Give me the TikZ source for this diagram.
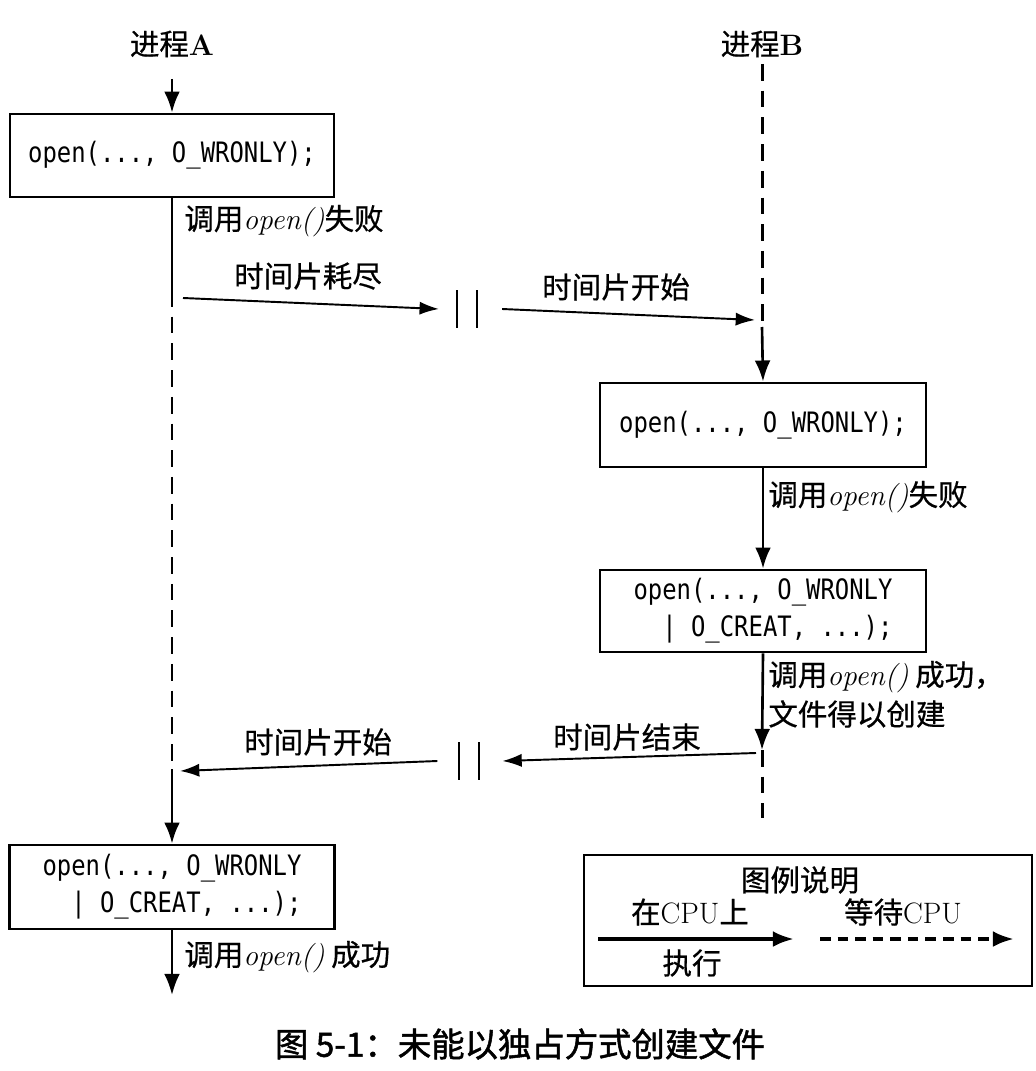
\documentclass[tikz,border=0pt]{standalone}
\usepackage{fontspec}
\usetikzlibrary{arrows.meta}
\newfontfamily\cjk[FakeBold=0.6]{Noto Sans CJK SC}
\newfontfamily\cjkbold[FakeBold=1.5]{Noto Sans CJK SC}
\newfontfamily\codefont[FakeStretch=0.85]{DejaVu Sans Mono}
\newcommand{\fn}[1]{{\normalfont\itshape #1}}

\tikzset{
  codebox/.style={draw, line width=1.6pt, inner sep=0pt, font=\codefont\fontsize{16}{21}\selectfont, align=left},
  lbl/.style={font=\cjk\fontsize{16.8}{22}\selectfont, inner sep=0pt},
  runline/.style={line width=1.5pt},
  waitline/.style={line width=1.7pt, dash pattern=on 9.5pt off 5.7pt},
  vtip/.style={-{Latex[length=12pt,width=9pt]}},
  htip/.style={line width=1.1pt, -{Latex[length=11pt,width=7.5pt]}},
  bar/.style={line width=1.1pt}
}

\begin{document}
\begin{tikzpicture}[x=0.02cm, y=-0.02cm]
\useasboundingbox (0,0) rectangle (1035,1071);

% process titles
\node[lbl] (procA) at (172,44) {进程\textbf{\rmfamily A}};
\node[lbl] (procB) at (762,44) {进程\textbf{\rmfamily B}};

% code boxes
\node[codebox, minimum width=6.48cm, minimum height=1.66cm] (boxA1) at (172,155.5) {open(..., O\_WRONLY);};
\node[codebox, minimum width=6.52cm, minimum height=1.68cm] (boxB1) at (763,425) {open(..., O\_WRONLY);};
\node[codebox, minimum width=6.52cm, minimum height=1.64cm] (boxB2) at (763,611) {open(..., O\_WRONLY\\\ \ | O\_CREAT, ...);};
\node[codebox, minimum width=6.5cm, minimum height=1.68cm] (boxA2) at (172,887) {open(..., O\_WRONLY\\\ \ | O\_CREAT, ...);};

% switch points
\coordinate (a1) at (172,290);
\coordinate (a2) at (172,769);
\coordinate (aend) at (172,995);
\coordinate (b1) at (762,64);
\coordinate (b2) at (762,327);
\coordinate (b3) at (762,750);
\coordinate (b4) at (762,818);
\coordinate (gapU) at (467,309);
\coordinate (gapL) at (469,761);

% process A
\draw[runline, vtip] ([yshift=-12pt]procA.south) -- (boxA1.north);
\draw[runline] (boxA1.south) -- (a1);
\draw[waitline] (a1) -- (a2);
\draw[runline, vtip] (a2) -- (boxA2.north);
\draw[runline, vtip] (boxA2.south) -- (aend);

% process B
\draw[waitline] (b1) -- (b2);
\draw[runline, vtip] (b2) -- (boxB1.north);
\draw[runline, vtip] (boxB1.south) -- (boxB2.north);
\draw[runline, vtip] (boxB2.south) -- (b3);
\draw[waitline] (b3) -- (b4);

% the two bars
\draw[bar] ([shift={(-10,-19)}]gapU) -- ([shift={(-10,19)}]gapU)
           ([shift={(10,-19)}]gapU) -- ([shift={(10,19)}]gapU);
\draw[bar] ([shift={(-10,-19)}]gapL) -- ([shift={(-10,19)}]gapL)
           ([shift={(10,-19)}]gapL) -- ([shift={(10,19)}]gapL);

% time slice arrows
\draw[htip] (183,298) -- ([xshift=-16]gapU);
\draw[htip] ([xshift=20]gapU) -- (755,320);
\draw[htip] (756,753) -- ([xshift=19]gapL);
\draw[htip] ([xshift=-18]gapL) -- (180,771);

% labels
\node[lbl, anchor=west] (failA) at (184,221) {调用\fn{open()}失败};
\node[lbl] (outA) at (308,276) {时间片耗尽};
\node[lbl] (inB) at (616,287) {时间片开始};
\node[lbl, anchor=west] (failB) at (768,497) {调用\fn{open()}失败};
\node[lbl, anchor=west] (okB) at (768,677) {调用\fn{open()} 成功，};
\node[lbl, anchor=west] (mkB) at (768,714) {文件得以创建};
\node[lbl] (outB) at (627,737) {时间片结束};
\node[lbl] (inA) at (318,742) {时间片开始};
\node[lbl, anchor=west] (okA) at (184,957) {调用\fn{open()} 成功};

% legend
\node[draw, line width=1.1pt, minimum width=8.96cm, minimum height=2.62cm] (legend) at (808,920.5) {};
\node[lbl] (legtitle) at (800,880) {图例说明};
\node[lbl] (legrun) at (690,912) {在{\rmfamily CPU}上};
\node[lbl] (legexec) at (692,963) {执行};
\node[lbl] (legwait) at (903,912) {等待{\rmfamily CPU}};
\coordinate (r1) at (598,939);
\coordinate (r2) at (794,939);
\coordinate (w1) at (820,939);
\coordinate (w2) at (1014,939);
\draw[line width=2.2pt, -{Latex[length=12pt,width=9pt]}] (r1) -- (r2);
\draw[line width=2.2pt, dash pattern=on 6pt off 4pt, -{Latex[length=12pt,width=9pt]}] (w1) -- (w2);

% caption
\node[font=\cjkbold\fontsize{19}{23}\selectfont] (caption) at (520,1044) {图 5-1：未能以独占方式创建文件};

\end{tikzpicture}
\end{document}
